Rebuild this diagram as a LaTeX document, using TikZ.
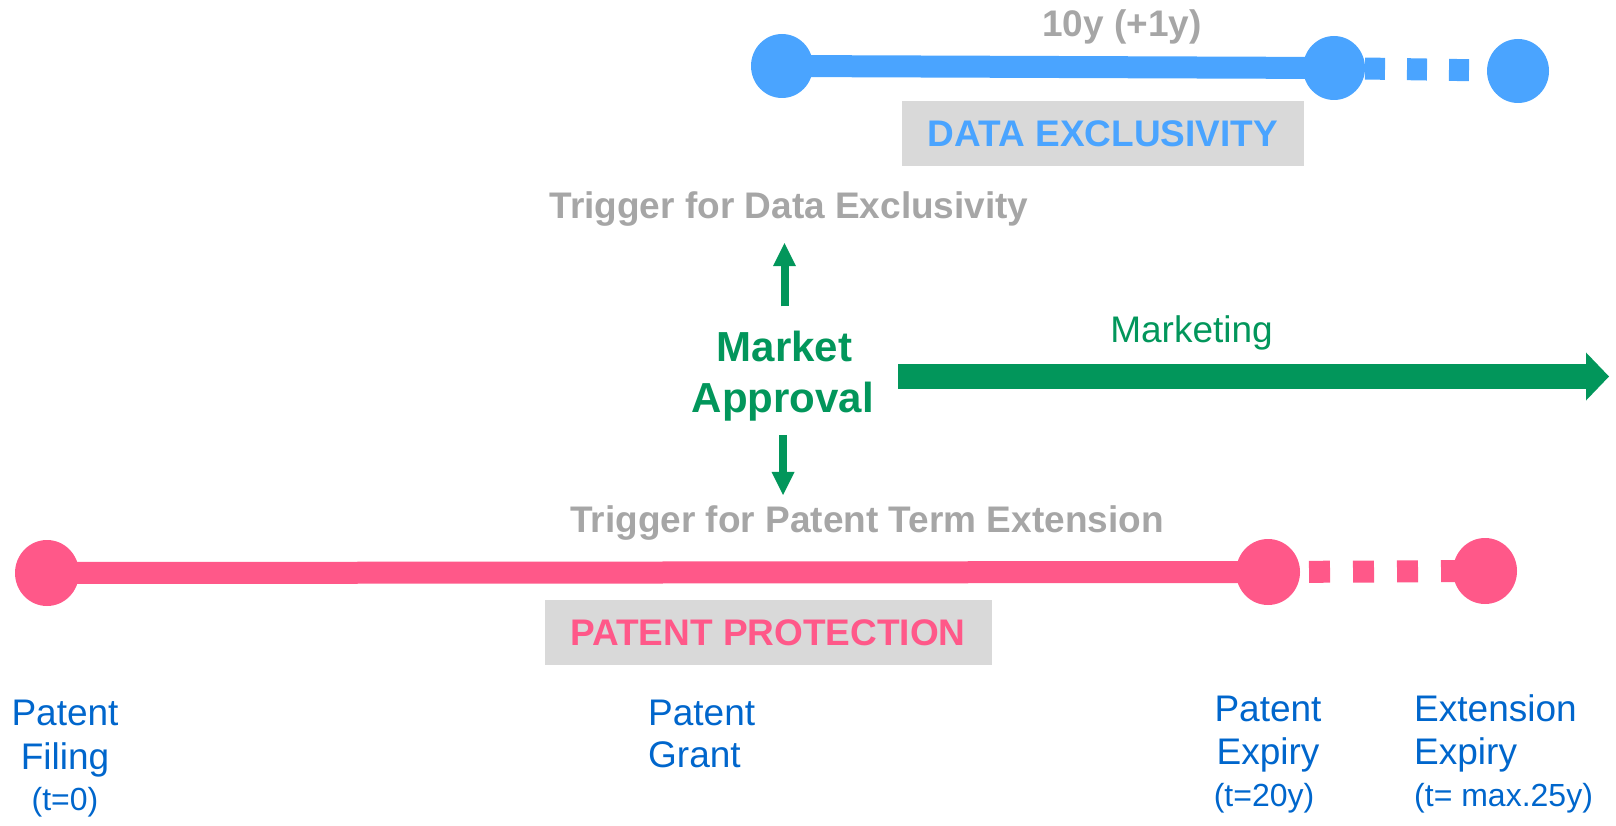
\documentclass[tikz,border=0pt]{standalone}
\usepackage{fontspec}
\setmainfont{Liberation Sans}
\usetikzlibrary{arrows.meta,shapes.geometric,backgrounds}
\definecolor{pinkc}{RGB}{255,88,137}
\definecolor{bluec}{RGB}{74,164,255}
\definecolor{greenc}{RGB}{2,150,91}
\definecolor{grayt}{RGB}{166,166,166}
\definecolor{boxg}{RGB}{217,217,217}
\definecolor{labelb}{RGB}{0,102,204}
\begin{document}
\begin{tikzpicture}[x=1pt,y=-1pt,
  dot/.style={ellipse,fill=#1,inner sep=0pt},
  bluedot/.style={dot=bluec,minimum width=62pt,minimum height=64pt},
  pinkdot/.style={dot=pinkc,minimum width=64pt,minimum height=66pt},
  bar/.style={line width=22pt,draw=#1,line cap=butt},
  txt/.style={inner sep=0pt,anchor=base},
  txtl/.style={inner sep=0pt,anchor=base west},
  bigr/.style={font=\fontsize{37}{44}\selectfont},
  bigb/.style={font=\fontsize{37}{44}\selectfont\bfseries},
  smallr/.style={font=\fontsize{32}{38}\selectfont},
  graytxt/.style={txt,bigb,text=grayt},
  label/.style={text=labelb,bigr},
  sublabel/.style={text=labelb,smallr},
  titlebox/.style={fill=boxg,inner sep=0pt,minimum height=65pt,bigb},
  smallarrow/.style={draw=greenc,line width=8pt,-{Triangle[length=23pt,width=23pt,line width=0pt]}},
  bigarrow/.style={draw=greenc,line width=25pt,-{Triangle[length=23pt,width=48pt,line width=0pt]}}
]
\useasboundingbox (0,0) rectangle (1616,826);

% Data exclusivity timeline
\node[bluedot] (bl) at (782,66) {};
\node[bluedot] (bm) at (1334,68) {};
\node[bluedot] (br) at (1518,71) {};
\node[graytxt] (tenY) at (1122,37) {10y (+1y)};
\node[titlebox,minimum width=402pt,text=bluec] (dataex) at (1103,133.5) {DATA EXCLUSIVITY};

% Patent timeline
\node[pinkdot] (pl) at (47,573) {};
\node[pinkdot] (pm) at (1268,572) {};
\node[pinkdot] (pr) at (1485,571) {};
\node[titlebox,minimum width=447pt,text=pinkc] (patprot) at (768,632.5) {PATENT PROTECTION};

\begin{scope}[on background layer]
  \draw[bar=bluec] (bl.center) -- (bm.center);
  \draw[bar=bluec,dash pattern=on 20pt off 22pt,dash phase=11pt] (bm.center) -- (br.center);
  \draw[bar=pinkc] (pl.center) -- (pm.center);
  \draw[bar=pinkc,dash pattern=on 21pt off 23pt,dash phase=3pt] (pm.center) -- (pr.center);
\end{scope}

% Triggers and market approval
\node[graytxt] (trigDE) at (789,219) {Trigger for Data Exclusivity};
\node[graytxt] (trigPTE) at (867,532) {Trigger for Patent Term Extension};
\node[txt,text=greenc,font=\fontsize{42}{51}\selectfont\bfseries] (market) at (784.5,361) {Market};
\node[txt,text=greenc,font=\fontsize{42}{51}\selectfont\bfseries] (approval) at (783,412) {Approval};
\draw[smallarrow,shorten <=24pt,shorten >=16pt] (market.north) -- (trigDE.south -| market.north);
\draw[smallarrow,shorten <=14pt,shorten >=10pt] (approval.south) -- (trigPTE.north -| approval.south);

\coordinate (mstart) at (898,376.5);
\coordinate (mend) at (1609,376.5);
\draw[bigarrow] (mstart) -- (mend);
\node[txt,bigr,text=greenc] (marketing) at (1191.5,342) {Marketing};

% Bottom labels
\node[txt,label] (fil1) at (65,725) {Patent};
\node[txt,label] (fil2) at (65,769) {Filing};
\node[txt,sublabel] (fil3) at (65,810) {(t=0)};

\node[txtl,label] (gr1) at (648,725) {Patent};
\node[txtl,label] (gr2) at (648,767) {Grant};

\node[txt,label] (ex1) at (1268,721) {Patent};
\node[txt,label] (ex2) at (1268,764) {Expiry};
\node[txt,sublabel] (ex3) at (1264,806) {(t=20y)};

\node[txtl,label] (ext1) at (1414,721) {Extension};
\node[txtl,label] (ext2) at (1414,764) {Expiry};
\node[txtl,sublabel] (ext3) at (1414,806) {(t= max.25y)};
\end{tikzpicture}
\end{document}
